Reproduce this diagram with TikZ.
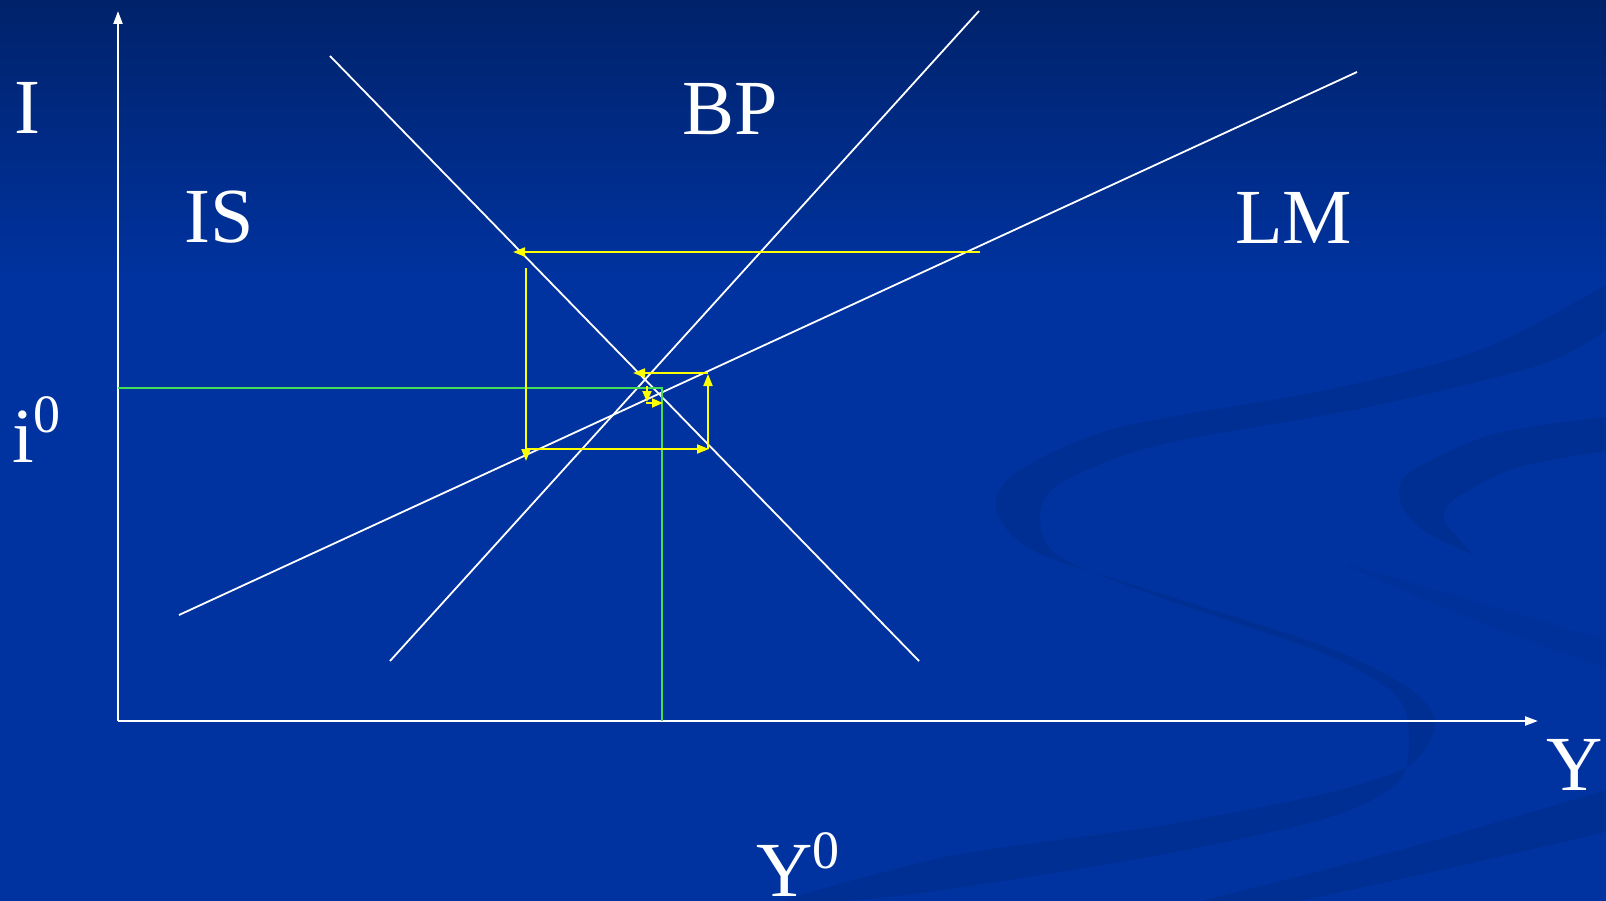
\documentclass[tikz,border=0pt]{standalone}
\usepackage{fontspec}
\setmainfont{Liberation Serif}
\usetikzlibrary{arrows.meta}
\definecolor{bgtop}{HTML}{00226A}
\definecolor{bgmid}{HTML}{0033A0}
\definecolor{swoosh}{HTML}{002F94}
\definecolor{ylw}{HTML}{FFFF00}
\definecolor{grn}{HTML}{44DD55}
\newcommand\mysupsize{\fontsize{54}{54}\selectfont}
\begin{document}
\begin{tikzpicture}[x=1pt,y=-1pt,
  lbl/.style={text=white, font=\fontsize{78}{78}\selectfont, inner sep=0pt, anchor=base west},
  curve/.style={white, line width=1.8pt},
  axis/.style={white, line width=2.2pt, -{Triangle[length=13pt,width=9pt]}},
  yarrow/.style={ylw, line width=1.8pt, -{Triangle[length=12pt,width=9pt]}},
  yline/.style={ylw, line width=1.8pt},
  gline/.style={grn, line width=1.8pt},
  swooshfill/.style={fill=swoosh}]
\useasboundingbox (0,0) rectangle (1606,901);
% background
\fill[bgmid] (0,0) rectangle (1606,901);
\shade[top color=bgtop,bottom color=bgmid] (0,0) rectangle (1606,280);
% decorative swooshes
\fill[swooshfill] plot[smooth] coordinates {(1606,285) (1480,350) (1327,390) (1117,428) (1017,472) (996,509) (1034,551) (1159,593) (1327,647) (1410,689) (1435,723) (1410,765) (1327,793) (1159,826) (950,856) (780,901)}
  -- plot[smooth] coordinates {(850,901) (950,889) (1159,855) (1327,818) (1400,780) (1408,723) (1390,690) (1320,652) (1159,597) (1060,557) (1040,520) (1059,484) (1159,445) (1368,407) (1540,365) (1606,330)} -- cycle;
\fill[swooshfill] plot[smooth] coordinates {(1606,417) (1494,434) (1410,472) (1400,501) (1423,530) (1473,555)}
  -- plot[smooth] coordinates {(1444,522) (1452,501) (1515,468) (1606,451)} -- cycle;
\fill[swooshfill, opacity=0.4] plot[smooth] coordinates {(1347,564) (1480,603) (1606,640)}
  -- (1606,668) -- plot[smooth] coordinates {(1606,668) (1480,622) (1347,566)} -- cycle;
\fill[swooshfill] plot[smooth] coordinates {(1201,901) (1400,850) (1606,790)}
  -- (1606,832) -- plot[smooth] coordinates {(1606,832) (1450,868) (1300,901)} -- cycle;
% coordinates
\coordinate (O) at (118,721);
\coordinate (Ytop) at (118,11);
\coordinate (Xend) at (1538,721);
\coordinate (IS1) at (330,56);
\coordinate (IS2) at (919,661);
\coordinate (BP1) at (390,661);
\coordinate (BP2) at (979,11);
\coordinate (LM1) at (179,615);
\coordinate (LM2) at (1357,72);
\coordinate (G1) at (118,388);
\coordinate (G2) at (662,388);
\coordinate (G3) at (662,721);
\coordinate (a1s) at (980,252);
\coordinate (a1e) at (513,252);
\coordinate (a2s) at (526,268);
\coordinate (a2e) at (526,461);
\coordinate (a3s) at (526,449);
\coordinate (a3e) at (709,449);
\coordinate (a4s) at (708,449);
\coordinate (a4e) at (708,374);
\coordinate (a5s) at (708,373);
\coordinate (a5e) at (633,373);
\coordinate (a6s) at (647,386);
\coordinate (a6e) at (647,402);
\coordinate (a7s) at (646,403);
\coordinate (a7e) at (663,403);
% axes
\draw[axis] (O) -- (Ytop);
\draw[axis] (O) -- (Xend);
% curves
\draw[curve] (IS1) -- (IS2);
\draw[curve] (BP1) -- (BP2);
\draw[curve] (LM1) -- (LM2);
% green equilibrium lines
\draw[gline] (G1) -- (G2) -- (G3);
% yellow adjustment path
\draw[yarrow] (a1s) -- (a1e);
\draw[yarrow] (a2s) -- (a2e);
\draw[yarrow] (a3s) -- (a3e);
\draw[yarrow] (a4s) -- (a4e);
\draw[yarrow] (a5s) -- (a5e);
\draw[yarrow, -{Triangle[length=11pt,width=9pt]}] (a6s) -- (a6e);
\draw[yarrow, -{Triangle[length=11pt,width=9pt]}] (a7s) -- (a7e);
% labels
\node[lbl] (tI) at (14,134) {I};
\node[lbl] (tIS) at (184,243) {IS};
\node[lbl] (tBP) at (682,135) {BP};
\node[lbl] (tLM) at (1235,244) {LM};
\node[lbl] (ti) at (12,462) {i\raisebox{30pt}{\mysupsize 0}};
\node[lbl] (tY) at (1546,790) {Y};
\node[lbl] (tY0) at (756,896) {Y\raisebox{28pt}{\mysupsize 0}};
\end{tikzpicture}
\end{document}
